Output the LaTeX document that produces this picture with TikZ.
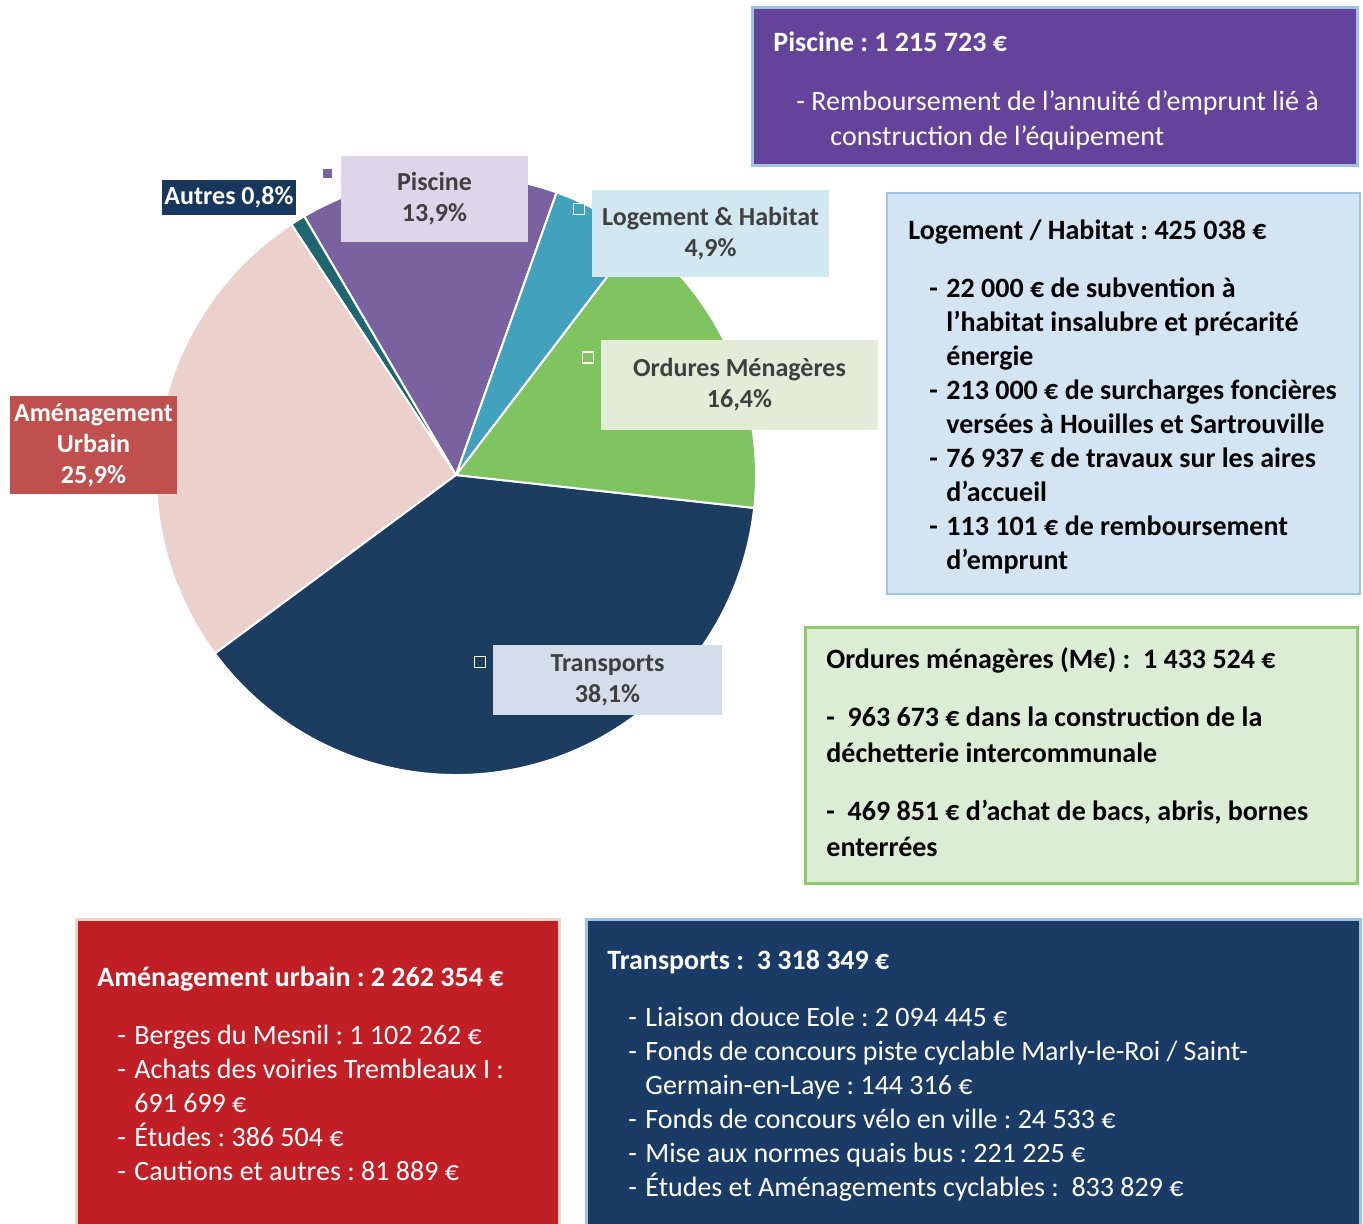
\documentclass[tikz,border=0pt]{standalone}
\usepackage{fontspec}
\setmainfont{Carlito}
\frenchspacing

\definecolor{piscine}{HTML}{7A62A0}
\definecolor{logement}{HTML}{42A2BE}
\definecolor{ordures}{HTML}{7FC45E}
\definecolor{transports}{HTML}{1B3D5F}
\definecolor{amenag}{HTML}{ECD0CC}
\definecolor{autres}{HTML}{1F6670}
\definecolor{lblgray}{HTML}{404040}
\definecolor{piscinelbl}{HTML}{DDD6E8}
\definecolor{logementlbl}{HTML}{D2E8F0}
\definecolor{ordureslbl}{HTML}{E2ECD8}
\definecolor{transportslbl}{HTML}{D3DEEA}
\definecolor{amenaglbl}{HTML}{C0504D}
\definecolor{autreslbl}{HTML}{17375E}
\definecolor{piscinebox}{HTML}{65439A}
\definecolor{logementbox}{HTML}{D3E5F3}
\definecolor{orduresbox}{HTML}{DBEDD4}
\definecolor{amenagbox}{HTML}{C11F26}
\definecolor{transportsbox}{HTML}{1A3B66}
\definecolor{edgeblue}{HTML}{9DC3E6}
\definecolor{edgegreen}{HTML}{8FCB6B}
\definecolor{edgepeach}{HTML}{F6D3C2}

\newcommand\bul{\makebox[8.5pt][l]{-}}

\begin{document}
\begin{tikzpicture}[x=0.5pt,y=-0.5pt,
    pielbl/.style={font=\bfseries\fontsize{13}{15.5}\selectfont,text=lblgray,align=center,inner sep=0pt},
    marker/.style={draw=white,line width=0.8pt,minimum size=5.5pt,inner sep=0pt},
    boxtxt/.style={anchor=north west,align=left,inner sep=0pt,font=\fontsize{14}{17}\selectfont}]
  \useasboundingbox (0,0) rectangle (1363,1223);
  \clip (0,0) rectangle (1363,1223);
  \fill[white] (0,0) rectangle (1363,1223);

  % pie
  \coordinate (C) at (456,475);
  \foreach \a/\b/\c in {70.4/120.4/piscine, 120.4/123.3/autres, 123.3/216.5/amenag,
      216.5/353.7/transports, 353.7/412.7/ordures, 52.7/70.4/logement}
    \filldraw[fill=\c,draw=white,line width=1pt,line join=round]
      (C) -- ++(-\a:300) arc[start angle=-\a,end angle=-\b,radius=300] -- cycle;

  % labels on the pie
  \node[pielbl,fill=piscinelbl,minimum width=93.5pt,minimum height=43pt] (lpiscine) at (434.5,199) {Piscine\\13,9\%};
  \node[pielbl,fill=logementlbl,minimum width=118.5pt,minimum height=43.5pt] (llogement) at (710.5,233.5) {Logement \& Habitat\\4,9\%};
  \node[pielbl,fill=ordureslbl,minimum width=138.5pt,minimum height=45pt] (lordures) at (739.5,385) {Ordures Ménagères\\16,4\%};
  \node[pielbl,fill=transportslbl,minimum width=114.5pt,minimum height=35pt] (ltransports) at (607.5,680) {Transports\\38,1\%};
  \node[pielbl,fill=amenaglbl,text=white,minimum width=83.5pt,minimum height=49pt] (lamenag) at (93.5,445) {Aménagement\\Urbain\\25,9\%};
  \node[pielbl,fill=autreslbl,text=white,minimum width=67pt,minimum height=17.5pt] (lautres) at (229,197.5) {Autres 0,8\%};

  \node[marker,fill=piscine] (mpiscine) at (327.5,173.5) {};
  \node[marker,fill=logement] (mlogement) at (579,209) {};
  \node[marker,fill=ordures] (mordures) at (588,357.5) {};
  \node[marker,fill=transports] (mtransports) at (480,662) {};

  % detail boxes
  \filldraw[fill=piscinebox,draw=edgeblue,line width=1.5pt] (752,7) rectangle (1357,165);
  \node[boxtxt,text=white,font=\fontsize{14}{17.5}\selectfont] (tpiscine) at (773,31)
    {\textbf{Piscine : 1 215 723 €}\\[12pt]
     \hspace*{11.5pt}\makebox[7.5pt][l]{-}Remboursement de l’annuité d’emprunt lié à\\
     \hspace*{28.5pt}construction de l’équipement};

  \filldraw[fill=logementbox,draw=edgeblue,line width=1pt] (887,193) rectangle (1360,594);
  \node[boxtxt,font=\bfseries\fontsize{14}{17}\selectfont] (tlogement) at (908,219)
    {Logement / Habitat : 425 038 €\\[12pt]
     \hspace*{10.5pt}\bul 22 000 € de subvention à\\
     \hspace*{19pt}l’habitat insalubre et précarité\\
     \hspace*{19pt}énergie\\
     \hspace*{10.5pt}\bul 213 000 € de surcharges foncières\\
     \hspace*{19pt}versées à Houilles et Sartrouville\\
     \hspace*{10.5pt}\bul 76 937 € de travaux sur les aires\\
     \hspace*{19pt}d’accueil\\
     \hspace*{10.5pt}\bul 113 101 € de remboursement\\
     \hspace*{19pt}d’emprunt};

  \filldraw[fill=orduresbox,draw=edgegreen,line width=1.5pt] (805,627) rectangle (1357,883);
  \node[boxtxt,font=\bfseries\fontsize{14}{18}\selectfont] (tordures) at (826,647)
    {Ordures ménagères (M€) :\ \ 1 433 524 €\\[11pt]
     -\ \ 963 673 € dans la construction de la\\
     déchetterie intercommunale\\[11pt]
     -\ \ 469 851 € d’achat de bacs, abris, bornes\\
     enterrées};

  \filldraw[fill=amenagbox,draw=edgepeach,line width=1.5pt] (76,919) rectangle (559,1240);
  \node[boxtxt,text=white] (tamenag) at (97,966)
    {\textbf{Aménagement urbain : 2 262 354 €}\\[12pt]
     \hspace*{10pt}\bul Berges du Mesnil : 1 102 262 €\\
     \hspace*{10pt}\bul Achats des voiries Trembleaux I :\\
     \hspace*{18.5pt}691 699 €\\
     \hspace*{10pt}\bul Études : 386 504 €\\
     \hspace*{10pt}\bul Cautions et autres : 81 889 €};

  \filldraw[fill=transportsbox,draw=edgeblue,line width=1.5pt] (586,919) rectangle (1360,1240);
  \node[boxtxt,text=white] (ttransports) at (607,950)
    {\textbf{Transports :\ \ 3 318 349 €}\\[11.5pt]
     \hspace*{10.5pt}\bul Liaison douce Eole : 2 094 445 €\\
     \hspace*{10.5pt}\bul Fonds de concours piste cyclable Marly-le-Roi / Saint-\\
     \hspace*{19pt}Germain-en-Laye : 144 316 €\\
     \hspace*{10.5pt}\bul Fonds de concours vélo en ville : 24 533 €\\
     \hspace*{10.5pt}\bul Mise aux normes quais bus : 221 225 €\\
     \hspace*{10.5pt}\bul Études et Aménagements cyclables :\ \ 833 829 €};
\end{tikzpicture}
\end{document}
